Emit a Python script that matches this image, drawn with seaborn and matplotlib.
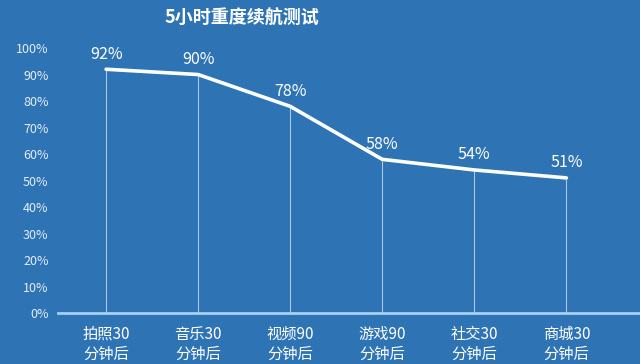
import matplotlib.pyplot as plt
import seaborn as sns
import pandas as pd

# dati
categorie = ['拍照30\n分钟后', '音乐30\n分钟后', '视频90\n分钟后', '游戏90\n分钟后', '社交30\n分钟后', '商城30\n分钟后']
batteria = [92, 90, 78, 58, 54, 51]
tick_y = [0, 10, 20, 30, 40, 50, 60, 70, 80, 90, 100]

sfondo = '#2e74b5'

sns.set_theme(style='white')
plt.rcParams['font.family'] = ['Noto Sans CJK SC', 'DejaVu Sans']

df = pd.DataFrame({'pos': range(len(categorie)), 'val': batteria})

fig = plt.figure(figsize=(6.4, 3.64), dpi=100, facecolor=sfondo)
ax = fig.add_axes([0.091, 0.140, 0.909, 0.728])
ax.set_facecolor(sfondo)

# linee verticali dai punti alla base
ax.vlines(df['pos'], 0, df['val'], color='#c9dcf0', linewidth=0.8, alpha=0.8)

sns.lineplot(data=df, x='pos', y='val', ax=ax, color='white', linewidth=2.6)

for x, v in zip(df['pos'], batteria):
    ax.text(x, v + 2.5, f'{v}%', color='white', fontsize=11.5, ha='center', va='bottom')

ax.set_xlim(-0.52, 5.8)
ax.set_ylim(0, 100)
ax.set_yticks(tick_y)
ax.set_yticklabels([f'{t}%' for t in tick_y], color='#e3edf8', fontsize=9)
ax.set_xticks(range(len(categorie)))
ax.set_xticklabels(categorie, color='white', fontsize=11, linespacing=1.25)
ax.tick_params(axis='x', length=0, pad=9)
ax.tick_params(axis='y', length=0, pad=7)
ax.set_xlabel('')
ax.set_ylabel('')

for s in ['top', 'right', 'left']:
    ax.spines[s].set_visible(False)
ax.spines['bottom'].set_color('#a8d0f2')
ax.spines['bottom'].set_linewidth(2)

fig.text(0.378, 0.95, '5小时重度续航测试', color='white', fontsize=13,
         fontweight='bold', ha='center', va='center')

fig.savefig('out.png', dpi=100, facecolor=sfondo)
